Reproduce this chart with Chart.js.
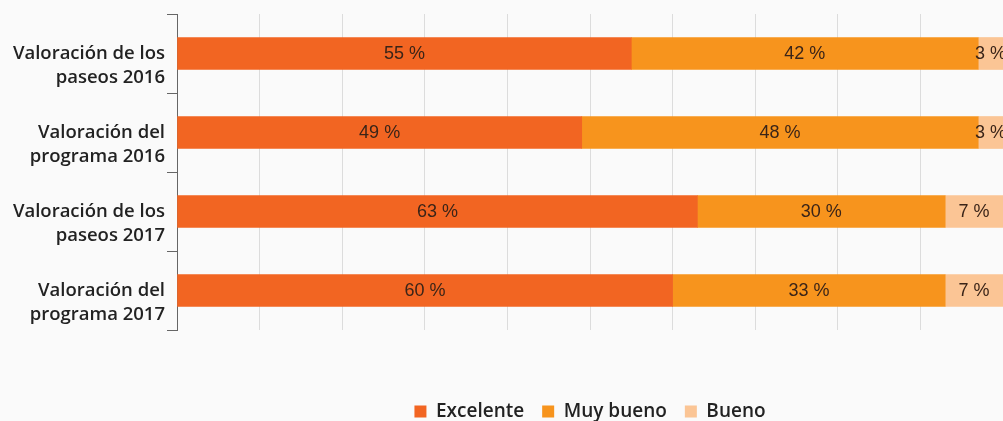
<!DOCTYPE html>
<html>
<head>
<meta charset="utf-8">
<script src="https://cdn.jsdelivr.net/npm/chart.js@4/dist/chart.umd.min.js"></script>
<style>
	body { margin: 0; background: #fafafa; overflow: hidden; }
	#wrap { position: relative; width: 1003px; height: 421px; }
</style>
</head>
<body>
<div id="wrap"><canvas id="valoracion-chart"></canvas></div>
<script>
// leading "" keeps the first text line level with the bar, like the original
const categories = [
	["", "Valoración de los", "paseos 2016"],
	["", "Valoración del", "programa 2016"],
	["", "Valoración de los", "paseos 2017"],
	["", "Valoración del", "programa 2017"],
];
const excelente = [55, 49, 63, 60];
const muyBueno = [42, 48, 30, 33];
const bueno = [3, 3, 7, 7];

const labelFont = "'Open Sans', sans-serif";

// draws "NN %" in the middle of each bar segment
const segmentLabels = {
	id: "segmentLabels",
	afterDatasetsDraw(chart) {
		const ctx = chart.ctx;
		ctx.save();
		ctx.font = "18px 'Liberation Sans', Arial, sans-serif";
		ctx.fillStyle = "#3a2418";
		ctx.textAlign = "center";
		ctx.textBaseline = "middle";
		chart.data.datasets.forEach((ds, i) => {
			chart.getDatasetMeta(i).data.forEach((bar, j) => {
				const cx = (bar.x + bar.base) / 2;
				ctx.fillText(ds.data[j] + " %", cx, bar.y + 1);
			});
		});
		ctx.restore();
	},
};

// legend sits a bit lower in the original
const legendNudge = {
	id: "legendNudge",
	afterLayout(chart) {
		chart.legend.top += 10;
		chart.legend.bottom += 10;
	},
};

const config = {
	type: "bar",
	data: {
		labels: categories,
		datasets: [
			{ label: "Excelente", data: excelente, backgroundColor: "#F26522" },
			{ label: "Muy bueno", data: muyBueno, backgroundColor: "#F7941D" },
			{ label: "Bueno", data: bueno, backgroundColor: "#FBC595" },
		],
	},
	options: {
		indexAxis: "y",
		responsive: true,
		maintainAspectRatio: false,
		animation: false,
		layout: { padding: { top: 14, right: 0, left: 0, bottom: 0 } },
		datasets: { bar: { barThickness: 32, borderWidth: 0 } },
		scales: {
			x: {
				stacked: true,
				min: 0,
				max: 100,
				ticks: { display: false, stepSize: 10 },
				border: { display: false },
				grid: { color: "#dcdcdc", drawTicks: false },
				afterFit(axis) { axis.height = 44; },
			},
			y: {
				stacked: true,
				offset: true,
				border: { display: true, color: "#666", width: 1 },
				grid: { offset: true, drawOnChartArea: false, drawTicks: true, tickLength: 10, color: "#666" },
				ticks: { color: "#222", padding: 2, font: { family: labelFont, size: 18.5, weight: "600", lineHeight: 1.3 } },
				afterFit(axis) {
					axis.width = 177;
					axis.paddingTop = 0;
					axis.paddingBottom = 0;
				},
			},
		},
		plugins: {
			tooltip: { enabled: false },
			legend: {
				position: "bottom",
				fullSize: false,
				labels: {
					boxWidth: 12,
					boxHeight: 12,
					padding: 18,
					color: "#222",
					font: { family: labelFont, size: 19, weight: "600" },
				},
			},
		},
	},
	plugins: [segmentLabels, legendNudge],
};

window.valoracionChart = new Chart(document.getElementById("valoracion-chart"), config);
</script>
</body>
</html>
